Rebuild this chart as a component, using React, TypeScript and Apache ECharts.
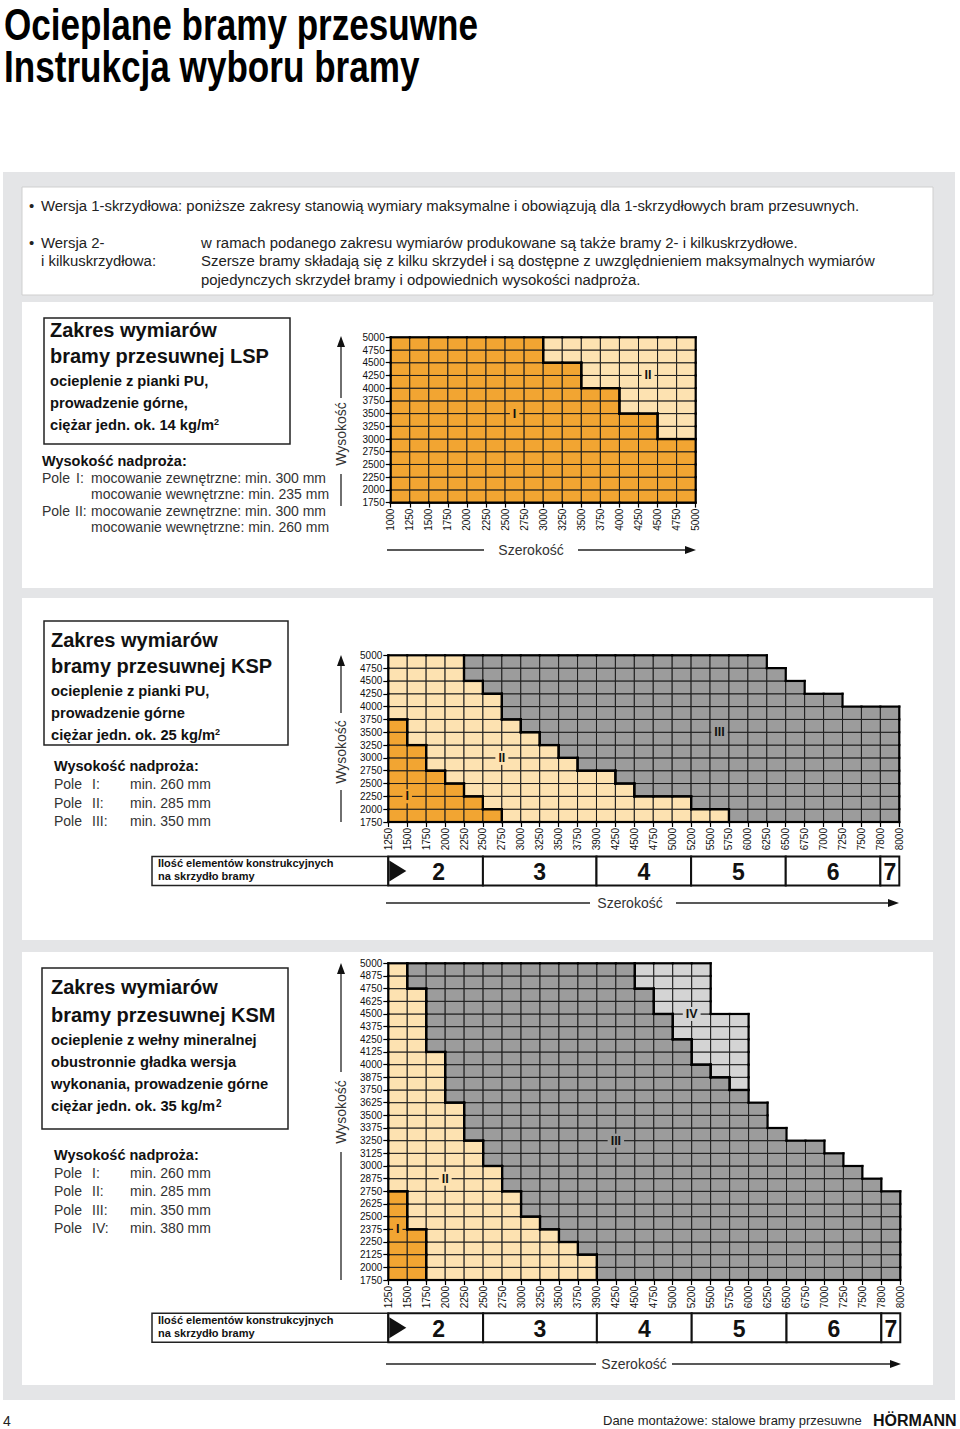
import React, { useEffect, useRef } from "react";
import * as echarts from "echarts";

const FONT = '"Liberation Sans", Arial, Helvetica, sans-serif';

// ---------------- data ----------------
// LSP
const lspWidths = [1000, 1250, 1500, 1750, 2000, 2250, 2500, 2750, 3000, 3250, 3500, 3750, 4000, 4250, 4500, 4750, 5000];
const lspHeights = [1750, 2000, 2250, 2500, 2750, 3000, 3250, 3500, 3750, 4000, 4250, 4500, 4750, 5000];
// max height reached by each field, per width column
const lspZoneIMax = [5000, 5000, 5000, 5000, 5000, 5000, 5000, 5000, 4500, 4500, 4000, 4000, 3500, 3500, 3000, 3000];
const lspZoneIIMax = [5000, 5000, 5000, 5000, 5000, 5000, 5000, 5000, 5000, 5000, 5000, 5000, 5000, 5000, 5000, 5000];

// KSP
const kspWidths = [1250, 1500, 1750, 2000, 2250, 2500, 2750, 3000, 3250, 3500, 3750, 3900, 4250, 4500, 4750, 5000, 5200, 5500, 5750, 6000, 6250, 6500, 6750, 7000, 7250, 7500, 7800, 8000];
const kspHeights = [1750, 2000, 2250, 2500, 2750, 3000, 3250, 3500, 3750, 4000, 4250, 4500, 4750, 5000];
const kspZoneIMax = [3750, 3250, 2750, 2500, 2250, 2000, 1750, 1750, 1750, 1750, 1750, 1750, 1750, 1750, 1750, 1750, 1750, 1750, 1750, 1750, 1750, 1750, 1750, 1750, 1750, 1750, 1750];
const kspZoneIIMax = [5000, 5000, 5000, 5000, 4500, 4250, 3750, 3500, 3250, 3000, 2750, 2750, 2500, 2250, 2250, 2250, 2000, 2000, 1750, 1750, 1750, 1750, 1750, 1750, 1750, 1750, 1750];
const kspZoneIIIMax = [5000, 5000, 5000, 5000, 5000, 5000, 5000, 5000, 5000, 5000, 5000, 5000, 5000, 5000, 5000, 5000, 5000, 5000, 5000, 5000, 4750, 4500, 4250, 4250, 4000, 4000, 4000];

// KSM
const ksmWidths = [1250, 1500, 1750, 2000, 2250, 2500, 2750, 3000, 3250, 3500, 3750, 3900, 4250, 4500, 4750, 5000, 5200, 5500, 5750, 6000, 6250, 6500, 6750, 7000, 7250, 7500, 7800, 8000];
const ksmHeights = [1750, 2000, 2125, 2250, 2375, 2500, 2625, 2750, 2875, 3000, 3125, 3250, 3375, 3500, 3625, 3750, 3875, 4000, 4125, 4250, 4375, 4500, 4625, 4750, 4875, 5000];
const ksmZoneIMax = [2750, 2375, 1750, 1750, 1750, 1750, 1750, 1750, 1750, 1750, 1750, 1750, 1750, 1750, 1750, 1750, 1750, 1750, 1750, 1750, 1750, 1750, 1750, 1750, 1750, 1750, 1750];
const ksmZoneIIMax = [5000, 4750, 4125, 3625, 3250, 3000, 2750, 2500, 2375, 2250, 2125, 1750, 1750, 1750, 1750, 1750, 1750, 1750, 1750, 1750, 1750, 1750, 1750, 1750, 1750, 1750, 1750];
const ksmZoneIIIMax = [5000, 5000, 5000, 5000, 5000, 5000, 5000, 5000, 5000, 5000, 5000, 5000, 5000, 4750, 4500, 4250, 4000, 3875, 3750, 3625, 3375, 3250, 3250, 3125, 3000, 2875, 2750];
const ksmZoneIVMax = [1750, 1750, 1750, 1750, 1750, 1750, 1750, 1750, 1750, 1750, 1750, 1750, 1750, 5000, 5000, 5000, 5000, 4500, 4500, 1750, 1750, 1750, 1750, 1750, 1750, 1750, 1750];

// number of construction elements per leaf
const elementBounds = [1250, 2500, 3900, 5200, 6500, 7800, 8000];
const elementCounts = [2, 3, 4, 5, 6, 7];

const zoneNames = ["I", "II", "III", "IV"];
const zoneColors = ["#f2a532", "#fde2b1", "#9c9c9c", "#d4d4d4"];

// field label anchors (column / row-line index)
const lspZoneLabels = [
  { zone: 0, col: 6.5, row: 7 },
  { zone: 1, col: 13.5, row: 10 },
];
const kspZoneLabels = [
  { zone: 0, col: 1, row: 2 },
  { zone: 1, col: 6, row: 5 },
  { zone: 2, col: 17.5, row: 7 },
];
const ksmZoneLabels = [
  { zone: 0, col: 0.5, row: 4 },
  { zone: 1, col: 3, row: 8 },
  { zone: 2, col: 12, row: 11 },
  { zone: 3, col: 16, row: 21 },
];

// ---------------- helpers ----------------
function gridSeries(axisIdx: number, widths: number[], heights: number[], zoneMaxes: number[][], labels: any[]) {
  const nc = widths.length - 1;
  const nr = heights.length - 1;
  const m: number[][] = [];
  const cells: number[][] = [];
  for (let c = 0; c < nc; c++) {
    m[c] = [];
    for (let r = 0; r < nr; r++) {
      const top = heights[r + 1];
      const z = zoneMaxes.findIndex((a) => a[c] >= top);
      m[c][r] = z;
      if (z >= 0) cells.push([c, r, z]);
    }
  }
  const zoneAt = (c: number, r: number) => (c < 0 || r < 0 || c >= nc || r >= nr ? -1 : m[c][r]);
  const base = { type: "custom", xAxisIndex: axisIdx, yAxisIndex: axisIdx, silent: true };
  return [
    {
      ...base,
      z: 2,
      data: cells,
      renderItem: (_p: any, api: any) => {
        const a = api.coord([api.value(0), api.value(1)]);
        const b = api.coord([api.value(0) + 1, api.value(1) + 1]);
        return {
          type: "rect",
          shape: { x: a[0], y: b[1], width: b[0] - a[0], height: a[1] - b[1] },
          style: { fill: zoneColors[api.value(2)], stroke: "#1c1c1c", lineWidth: 1 },
        };
      },
    },
    {
      ...base,
      z: 3,
      data: cells,
      renderItem: (_p: any, api: any) => {
        const c = api.value(0);
        const r = api.value(1);
        const z = api.value(2);
        const a = api.coord([c, r]);
        const b = api.coord([c + 1, r + 1]);
        const st = { stroke: "#000", lineWidth: 2.2, lineCap: "square" };
        const ch: any[] = [];
        if (zoneAt(c, r + 1) !== z) ch.push({ type: "line", shape: { x1: a[0], y1: b[1], x2: b[0], y2: b[1] }, style: st });
        if (zoneAt(c, r - 1) !== z) ch.push({ type: "line", shape: { x1: a[0], y1: a[1], x2: b[0], y2: a[1] }, style: st });
        if (zoneAt(c + 1, r) !== z) ch.push({ type: "line", shape: { x1: b[0], y1: a[1], x2: b[0], y2: b[1] }, style: st });
        if (zoneAt(c - 1, r) !== z) ch.push({ type: "line", shape: { x1: a[0], y1: a[1], x2: a[0], y2: b[1] }, style: st });
        return { type: "group", children: ch };
      },
    },
    {
      ...base,
      z: 4,
      data: labels.map((l) => [l.col, l.row, l.zone]),
      renderItem: (_p: any, api: any) => {
        const p = api.coord([api.value(0), api.value(1)]);
        const z = api.value(2);
        return {
          type: "text",
          x: p[0],
          y: p[1],
          style: {
            text: zoneNames[z],
            fill: "#111",
            fontSize: 12.5,
            fontWeight: "bold",
            fontFamily: FONT,
            align: "center",
            verticalAlign: "middle",
            backgroundColor: zoneColors[z],
            padding: [1, 3, 0, 3],
          },
        };
      },
    },
  ];
}

function barSeries(axisIdx: number, widths: number[]) {
  const data = elementCounts.map((n, i) => [widths.indexOf(elementBounds[i]), widths.indexOf(elementBounds[i + 1]), n]);
  return {
    type: "custom",
    xAxisIndex: axisIdx,
    yAxisIndex: axisIdx,
    silent: true,
    z: 3,
    data,
    renderItem: (params: any, api: any) => {
      const a = api.coord([api.value(0), 0]);
      const b = api.coord([api.value(1), 1]);
      const ch: any[] = [
        { type: "rect", shape: { x: a[0], y: b[1], width: b[0] - a[0], height: a[1] - b[1] }, style: { fill: "#fff", stroke: "#111", lineWidth: 2 } },
        {
          type: "text",
          x: (a[0] + b[0]) / 2 + (params.dataIndex === 0 ? 3 : 0),
          y: (a[1] + b[1]) / 2 + 1,
          style: { text: String(api.value(2)), fill: "#111", fontSize: 23, fontWeight: "bold", fontFamily: FONT, align: "center", verticalAlign: "middle" },
        },
      ];
      if (params.dataIndex === 0) {
        ch.push({
          type: "polygon",
          shape: { points: [[a[0] + 1, b[1] + 4], [a[0] + 18, (a[1] + b[1]) / 2], [a[0] + 1, a[1] - 4]] },
          style: { fill: "#111" },
        });
      }
      return { type: "group", children: ch };
    },
  };
}

function mkX(gridIndex: number, labels: number[], show = true) {
  return {
    type: "value",
    gridIndex,
    min: 0,
    max: labels.length - 1,
    interval: 1,
    show,
    axisLine: { show, onZero: false, lineStyle: { color: "#000", width: 1.5 } },
    axisTick: { show, length: 5, lineStyle: { color: "#000", width: 1.2 } },
    axisLabel: { show, rotate: 90, fontSize: 10, margin: 6, color: "#111", fontFamily: FONT, formatter: (v: number) => String(labels[v] ?? "") },
    splitLine: { show: false },
  };
}
function mkY(gridIndex: number, labels: number[], show = true) {
  return {
    type: "value",
    gridIndex,
    min: 0,
    max: labels.length - 1,
    interval: 1,
    show,
    axisLine: { show, onZero: false, lineStyle: { color: "#000", width: 1.5 } },
    axisTick: { show, length: 5, lineStyle: { color: "#000", width: 1.2 } },
    axisLabel: { show, fontSize: 10, margin: 6, color: "#111", fontFamily: FONT, formatter: (v: number) => String(labels[v] ?? "") },
    splitLine: { show: false },
  };
}

function buildGraphics() {
  const g: any[] = [];
  const rect = (x: number, y: number, w: number, h: number, fill: string, stroke?: string, lw = 1) =>
    g.push({ type: "rect", shape: { x, y, width: w, height: h }, style: { fill, stroke: stroke || null, lineWidth: lw } });
  const text = (x: number, y: number, t: string, o: any = {}) =>
    g.push({
      type: "text",
      x,
      y,
      scaleX: o.scaleX || 1,
      style: {
        text: t,
        fill: o.fill || "#222",
        fontSize: o.size || 14,
        fontWeight: o.bold ? "bold" : "normal",
        fontFamily: o.family || FONT,
        align: o.align || "left",
        verticalAlign: "middle",
        lineHeight: o.lineHeight,
        rich: o.rich,
      },
    });
  const line = (x1: number, y1: number, x2: number, y2: number, lw = 1.3) =>
    g.push({ type: "line", shape: { x1, y1, x2, y2 }, style: { stroke: "#222", lineWidth: lw } });
  const poly = (pts: number[][]) => g.push({ type: "polygon", shape: { points: pts }, style: { fill: "#111" } });

  // title
  const ttl = { size: 44, bold: true, fill: "#000", scaleX: 0.798 };
  text(4, 25, "Ocieplane bramy przesuwne", ttl);
  text(4, 66.5, "Instrukcja wyboru bramy", ttl);

  // grey panel and white boxes
  rect(3, 172, 952, 1228, "#e4e5e7");
  rect(22, 187, 911, 108, "#fff", "#cfcfcf", 1);
  rect(22, 302, 911, 286, "#fff");
  rect(22, 598, 911, 342, "#fff");
  rect(22, 952, 911, 433, "#fff");

  // info
  const inf = { size: 14.9, fill: "#222" };
  text(29, 206, "•", inf);
  text(41, 206, "Wersja 1-skrzydłowa: poniższe zakresy stanowią wymiary maksymalne i obowiązują dla 1-skrzydłowych bram przesuwnych.", inf);
  text(29, 243, "•", inf);
  text(41, 243, "Wersja 2-", inf);
  text(41, 261, "i kilkuskrzydłowa:", inf);
  text(201, 243, "w ramach podanego zakresu wymiarów produkowane są także bramy 2- i kilkuskrzydłowe.", inf);
  text(201, 261, "Szersze bramy składają się z kilku skrzydeł i są dostępne z uwzględnieniem maksymalnych wymiarów", inf);
  text(201, 280, "pojedynczych skrzydeł bramy i odpowiednich wysokości nadproża.", inf);

  const supRich = { sup: { fontSize: 9, fontWeight: "bold", fontFamily: FONT, fill: "#111", verticalAlign: "top" } };
  const h1 = { size: 20, bold: true, fill: "#111" };
  const h2 = { size: 14.7, bold: true, fill: "#111" };
  const reg = { size: 14, fill: "#333" };

  // LSP
  rect(44, 318, 246, 126, "none", "#222", 1.5);
  text(50, 330, "Zakres wymiarów", h1);
  text(50, 356, "bramy przesuwnej LSP", h1);
  text(50, 381, "ocieplenie z pianki PU,", h2);
  text(50, 403, "prowadzenie górne,", h2);
  text(50, 425, "ciężar jedn. ok. 14 kg/m{sup|2}", { ...h2, rich: supRich });
  text(42, 461, "Wysokość nadproża:", { size: 14.5, bold: true, fill: "#111" });
  text(42, 478, "Pole", reg);
  text(76, 478, "I:", reg);
  text(91, 478, "mocowanie zewnętrzne: min. 300 mm", reg);
  text(91, 494, "mocowanie wewnętrzne: min. 235 mm", reg);
  text(42, 511, "Pole", reg);
  text(75, 511, "II:", reg);
  text(91, 511, "mocowanie zewnętrzne: min. 300 mm", reg);
  text(91, 527, "mocowanie wewnętrzne: min. 260 mm", reg);

  // KSP
  rect(44, 621, 244, 124, "none", "#222", 1.5);
  text(51, 640, "Zakres wymiarów", h1);
  text(51, 666, "bramy przesuwnej KSP", h1);
  text(51, 691, "ocieplenie z pianki PU,", h2);
  text(51, 713, "prowadzenie górne", h2);
  text(51, 735, "ciężar jedn. ok. 25 kg/m{sup|2}", { ...h2, rich: supRich });
  text(54, 766, "Wysokość nadproża:", { size: 14.5, bold: true, fill: "#111" });
  const kspPole = ["I:", "II:", "III:"];
  const kspMin = ["min. 260 mm", "min. 285 mm", "min. 350 mm"];
  kspPole.forEach((p, i) => {
    const y = 784 + i * 18.5;
    text(54, y, "Pole", reg);
    text(92, y, p, reg);
    text(130, y, kspMin[i], reg);
  });

  // KSM
  rect(42, 968, 246, 161, "none", "#222", 1.5);
  text(51, 987, "Zakres wymiarów", h1);
  text(51, 1015, "bramy przesuwnej KSM", h1);
  text(51, 1040, "ocieplenie z wełny mineralnej", h2);
  text(51, 1062, "obustronnie gładka wersja", h2);
  text(51, 1084, "wykonania, prowadzenie górne", h2);
  text(51, 1106, "ciężar jedn. ok. 35 kg/m{sup|2}", { ...h2, rich: { sup: { ...supRich.sup, fontSize: 10, padding: [0, 0, 6, 1] } } });
  text(54, 1155, "Wysokość nadproża:", { size: 14.5, bold: true, fill: "#111" });
  const ksmPole = ["I:", "II:", "III:", "IV:"];
  const ksmMin = ["min. 260 mm", "min. 285 mm", "min. 350 mm", "min. 380 mm"];
  ksmPole.forEach((p, i) => {
    const y = 1173 + i * 18.3;
    text(54, y, "Pole", reg);
    text(92, y, p, reg);
    text(130, y, ksmMin[i], reg);
  });

  // element count boxes
  const ilosc = (y: number) => {
    rect(152, y, 236, 29, "#fff", "#222", 1.5);
    text(158, y + 6.5, "Ilość elementów konstrukcyjnych", { size: 11, bold: true, fill: "#111" });
    text(158, y + 19.5, "na skrzydło bramy", { size: 11, bold: true, fill: "#111" });
  };
  ilosc(856.5);
  ilosc(1313.3);

  // Wysokość arrows
  const wys = (x: number, yTip: number, yEnd: number, yText: number, yLow1: number, yLow2: number) => {
    line(x, yTip + 6, x, yEnd);
    poly([[x - 4, yTip + 11], [x, yTip], [x + 4, yTip + 11]]);
    g.push({
      type: "text",
      x,
      y: yText,
      rotation: Math.PI / 2,
      style: { text: "Wysokość", fill: "#333", fontSize: 14, fontFamily: FONT, align: "center", verticalAlign: "middle" },
    });
    line(x, yLow1, x, yLow2);
  };
  wys(341, 336, 398, 434, 474, 506);
  wys(341, 655, 713, 752, 790, 822);
  wys(341, 963, 1072, 1112, 1152, 1280);

  // Szerokość arrows
  const sz = (y: number, l1: number, l2: number, xt: number, r1: number, r2: number) => {
    line(l1, y, l2, y);
    text(xt, y, "Szerokość", { size: 14, fill: "#333", align: "center" });
    line(r1, y, r2 - 6, y);
    poly([[r2 - 11, y - 4], [r2, y], [r2 - 11, y + 4]]);
  };
  sz(550, 387, 484, 531, 578, 696);
  sz(903, 386, 590, 630, 676, 899);
  sz(1364, 386, 596, 634, 672, 901);

  // footer
  text(3, 1421, "4", { size: 14, fill: "#222" });
  text(603, 1420, "Dane montażowe: stalowe bramy przesuwne", { size: 13, fill: "#222" });
  text(873, 1420, "HÖRMANN", { size: 16, bold: true, fill: "#111" });

  return g;
}

export default function App() {
  const ref = useRef<HTMLDivElement>(null);
  useEffect(() => {
    if (!ref.current) return;
    const chart = echarts.init(ref.current, undefined, { renderer: "svg" });
    const option: any = {
      animation: false,
      backgroundColor: "#fff",
      grid: [
        { left: 390.7, top: 337.3, width: 305, height: 165.3 },
        { left: 388.3, top: 655.3, width: 511, height: 166.7 },
        { left: 388.3, top: 856.5, width: 511, height: 29 },
        { left: 388.3, top: 963.3, width: 512, height: 316.7 },
        { left: 388.3, top: 1313.3, width: 512, height: 29 },
      ],
      xAxis: [mkX(0, lspWidths), mkX(1, kspWidths), mkX(2, kspWidths, false), mkX(3, ksmWidths), mkX(4, ksmWidths, false)],
      yAxis: [mkY(0, lspHeights), mkY(1, kspHeights), mkY(2, [0, 1], false), mkY(3, ksmHeights), mkY(4, [0, 1], false)],
      graphic: { elements: buildGraphics() },
      series: [
        ...gridSeries(0, lspWidths, lspHeights, [lspZoneIMax, lspZoneIIMax], lspZoneLabels),
        ...gridSeries(1, kspWidths, kspHeights, [kspZoneIMax, kspZoneIIMax, kspZoneIIIMax], kspZoneLabels),
        barSeries(2, kspWidths),
        ...gridSeries(3, ksmWidths, ksmHeights, [ksmZoneIMax, ksmZoneIIMax, ksmZoneIIIMax, ksmZoneIVMax], ksmZoneLabels),
        barSeries(4, ksmWidths),
      ],
    };
    chart.setOption(option);
    return () => chart.dispose();
  }, []);
  return <div ref={ref} style={{ position: "absolute", left: 0, top: 0, width: 960, height: 1429 }} />;
}
